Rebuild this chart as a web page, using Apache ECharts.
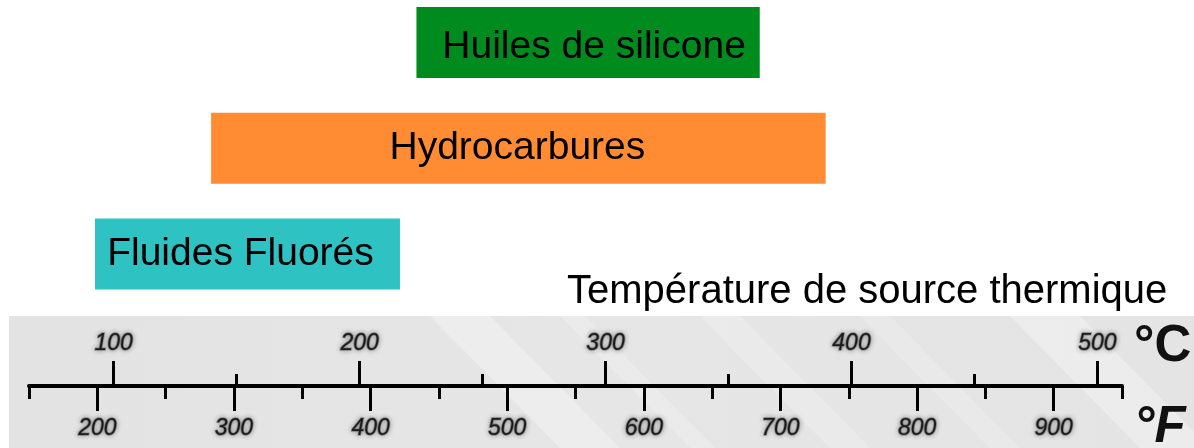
<!DOCTYPE html>
<html>
<head>
<meta charset="utf-8">
<script src="https://cdn.jsdelivr.net/npm/echarts@6/dist/echarts.min.js"></script>
<style>
html,body{margin:0;padding:0;background:#fff;}
#chart{width:1194px;height:448px;}
</style>
</head>
<body>
<div id="chart"></div>
<script>
// ---- data ----
var categories = ['Fluides Fluorés', 'Hydrocarbures', 'Huiles de silicone'];
var rangeStartC = [92.4, 139.6, 223.1];   // °C
var rangeEndC   = [216.4, 389.5, 362.7];  // °C
var celsiusMajorTicks = [100, 200, 300, 400, 500];
var celsiusMinorTicks = [150, 250, 350, 450];
var fahrenheitMajorTicks = [200, 300, 400, 500, 600, 700, 800, 900];
var fahrenheitMinorTicks = [150, 250, 350, 450, 550, 650, 750, 850, 950];
var fahrenheitMin = 150, fahrenheitMax = 950;
var axisTitle = 'Température de source thermique';
var unitC = '°C', unitF = '°F';

// ---- styles ----
var barColors = ['#2ec2c2', '#ff8c33', '#008b1e'];
var labelOffsets = [[-7, 0], [-1, 0], [6, 5]];
function fToC(f){ return (f - 32) / 1.8; }
var cMin = fToC(fahrenheitMin), cMax = fToC(fahrenheitMax);
var FONT = '"Liberation Sans", Arial, sans-serif';
var GL = 29, GR = 72;

var tickLabelStyle = {
  fontFamily: FONT, fontSize: 23, fontStyle: 'italic', color: '#1a1a1a',
  textBorderColor: 'rgba(90,90,90,0.55)', textBorderWidth: 1.5,
  textShadowColor: 'rgba(60,60,60,0.5)', textShadowBlur: 5
};

function stripe(x0, w, op) {
  return { type: 'polygon', z: -9, silent: true,
    shape: { points: [[x0, 316], [x0 + w, 316], [x0 + w + 130, 448], [x0 + 130, 448]] },
    style: { fill: 'rgba(255,255,255,' + op + ')' } };
}

var chart = echarts.init(document.getElementById('chart'));
chart.setOption({
  animation: false,
  backgroundColor: '#ffffff',
  graphic: [
    { type: 'rect', z: -10, silent: true, shape: { x: 9, y: 316, width: 1185, height: 132 },
      style: { fill: new echarts.graphic.LinearGradient(0, 0, 1, 0, [
        { offset: 0, color: '#e3e3e3' }, { offset: 0.5, color: '#e6e6e6' }, { offset: 1, color: '#e4e4e4' }]) } },
    stripe(430, 60, 0.3), stripe(560, 25, 0.2), stripe(700, 40, 0.2), stripe(860, 30, 0.18), stripe(1010, 70, 0.3),
    { type: 'text', x: 567, y: 272, style: { text: axisTitle, font: '40px ' + FONT, fill: '#000' } },
    { type: 'text', x: 1134, y: 321, style: { text: unitC, font: 'bold 51px ' + FONT, fill: '#111' } },
    { type: 'text', x: 1134, y: 402, style: { text: unitF, font: 'italic bold 51px ' + FONT, fill: '#111' } }
  ],
  grid: [
    { left: GL, right: GR, top: 42.5, height: 211.5 },
    { left: GL, right: GR, top: 386, height: 0 }
  ],
  xAxis: [
    { gridIndex: 0, type: 'value', min: cMin, max: cMax, show: false },
    { gridIndex: 1, type: 'value', position: 'top', min: cMin, max: cMax,
      axisLine: { show: true, lineStyle: { color: '#000', width: 4 } },
      axisTick: { show: true, inside: false, length: 25, lineStyle: { color: '#000', width: 3 }, customValues: celsiusMajorTicks },
      axisLabel: Object.assign({ margin: 31, customValues: celsiusMajorTicks }, tickLabelStyle),
      splitLine: { show: false } },
    { gridIndex: 1, type: 'value', position: 'top', min: cMin, max: cMax,
      axisLine: { show: false },
      axisTick: { show: true, inside: false, length: 12, lineStyle: { color: '#000', width: 3 }, customValues: celsiusMinorTicks },
      axisLabel: { show: false }, splitLine: { show: false } },
    { gridIndex: 1, type: 'value', position: 'bottom', min: fahrenheitMin, max: fahrenheitMax,
      axisLine: { show: false },
      axisTick: { show: true, inside: false, length: 25, lineStyle: { color: '#000', width: 3 }, customValues: fahrenheitMajorTicks },
      axisLabel: Object.assign({ margin: 31, customValues: fahrenheitMajorTicks }, tickLabelStyle),
      splitLine: { show: false } },
    { gridIndex: 1, type: 'value', position: 'bottom', min: fahrenheitMin, max: fahrenheitMax,
      axisLine: { show: false },
      axisTick: { show: true, inside: false, length: 13, lineStyle: { color: '#000', width: 3 }, customValues: fahrenheitMinorTicks },
      axisLabel: { show: false }, splitLine: { show: false } }
  ],
  yAxis: [
    { gridIndex: 0, type: 'category', data: categories, boundaryGap: false, show: false },
    { gridIndex: 1, type: 'value', show: false }
  ],
  series: [
    { type: 'bar', xAxisIndex: 0, yAxisIndex: 0, stack: 'r', barWidth: 71, silent: true,
      itemStyle: { color: 'transparent' }, data: rangeStartC },
    { type: 'bar', xAxisIndex: 0, yAxisIndex: 0, stack: 'r', barWidth: 71,
      data: rangeEndC.map(function (e, i) {
        return {
          value: e - rangeStartC[i],
          itemStyle: { color: barColors[i] },
          label: { show: true, position: 'inside', formatter: categories[i], offset: labelOffsets[i],
            fontFamily: FONT, fontSize: 39, color: '#000' }
        };
      }) }
  ]
});
</script>
</body>
</html>
